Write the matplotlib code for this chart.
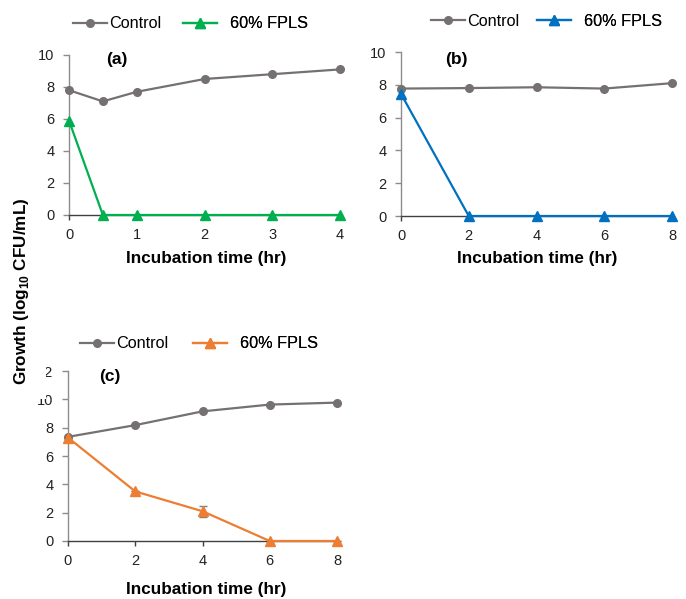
import matplotlib
matplotlib.use("Agg")
import matplotlib.pyplot as plt
from matplotlib.lines import Line2D

plt.rcParams['font.family'] = ['Liberation Sans', 'DejaVu Sans']
plt.rcParams['mathtext.fontset'] = 'custom'
plt.rcParams['mathtext.rm'] = 'Liberation Sans'
plt.rcParams['mathtext.bf'] = 'Liberation Sans:bold'

# ---- data ----
time_a = [0, 0.5, 1, 2, 3, 4]
control_a = [7.8, 7.1, 7.7, 8.5, 8.8, 9.1]
fpls_a = [5.9, 0, 0, 0, 0, 0]

time_b = [0, 2, 4, 6, 8]
control_b = [7.77, 7.8, 7.85, 7.77, 8.1]
fpls_b = [7.45, 0, 0, 0, 0]

time_c = [0, 2, 4, 6, 8]
control_c = [7.35, 8.18, 9.15, 9.63, 9.77]
fpls_c = [7.3, 3.5, 2.1, 0, 0]
fpls_c_err = [0, 0, 0.4, 0, 0]

xticks_a = [0, 1, 2, 3, 4]
xticks_bc = [0, 2, 4, 6, 8]
yticks_ab = [0, 2, 4, 6, 8, 10]
yticks_c = [0, 2, 4, 6, 8, 10, 12]

labels = ['Control', '60% FPLS']
panel_tags = ['(a)', '(b)', '(c)']

GREY = '#767171'
GREEN = '#00B050'
BLUE = '#0070C0'
ORANGE = '#ED7D31'
SPINE = '#8c8c8c'

W, H = 686, 599
fig = plt.figure(figsize=(W / 100, H / 100), dpi=100)


def px_axes(x0, x1, ytop, ybot):
    return fig.add_axes([x0 / W, 1 - ybot / H, (x1 - x0) / W, (ybot - ytop) / H])


ax_a = px_axes(69, 340, 55, 215)
ax_b = px_axes(401, 672, 52, 216)
ax_c = px_axes(68, 337, 371, 541)


def style(ax, xt, yt, xlim, ylim, label_xy):
    ax.set_xlim(*xlim)
    ax.set_ylim(*ylim)
    ax.set_xticks(xt)
    ax.set_yticks(yt)
    for s in ['top', 'right']:
        ax.spines[s].set_visible(False)
    ax.spines['left'].set_color(SPINE)
    ax.spines['bottom'].set_color('#404040')
    ax.spines['left'].set_linewidth(1.0)
    ax.spines['bottom'].set_linewidth(1.0)
    ax.tick_params(axis='y', direction='out', length=4.5, width=1.0, color=SPINE,
                   labelsize=10.5, pad=6, labelcolor='#222222')
    ax.tick_params(axis='x', direction='out', length=3.5, width=1.0, color='#404040',
                   labelsize=10.5, pad=6, labelcolor='#222222')
    ax.set_xlabel('Incubation time (hr)', fontsize=12.3, fontweight='bold', va='center')
    ax.xaxis.set_label_coords(*label_xy)
    ax.set_facecolor('none')


def draw(ax, t, ctrl, fp, col, err=None):
    ax.plot(t, ctrl, color=GREY, lw=1.6, marker='o', ms=5.5, clip_on=False, zorder=3)
    if err is not None:
        ax.errorbar(t, fp, yerr=err, fmt='none', ecolor='#7f7f7f', elinewidth=1.0,
                    capsize=3, capthick=1.0, zorder=2, clip_on=False)
    ax.plot(t, fp, color=col, lw=1.6, marker='^', ms=6.5, clip_on=False, zorder=4)


def legend_pair(ax, col, x_ctrl, x_fp, y):
    h1 = Line2D([], [], color=GREY, lw=1.6, marker='o', ms=5.5)
    h2 = Line2D([], [], color=col, lw=1.6, marker='^', ms=6.5)
    common = dict(loc='center left', frameon=False, borderpad=0, borderaxespad=0,
                  fontsize=11.7, handlelength=2.1, bbox_transform=fig.transFigure)
    l1 = ax.legend([h1], [labels[0]], bbox_to_anchor=(x_ctrl / W, 1 - y / H),
                   handletextpad=0.12, **common)
    ax.add_artist(l1)
    l2 = ax.legend([h2], [labels[1]], bbox_to_anchor=(x_fp / W, 1 - y / H),
                   handletextpad=0.8, **common)
    ax.add_artist(l2)


style(ax_a, xticks_a, yticks_ab, (0, 4), (0, 10), (0.506, -0.269))
draw(ax_a, time_a, control_a, fpls_a, GREEN)
legend_pair(ax_a, GREEN, 73, 183, 24)
ax_a.text(0.71, 9.7, panel_tags[0], fontsize=12.5, fontweight='bold', ha='center', va='center')

style(ax_b, xticks_bc, yticks_ab, (0, 8), (0, 10), (0.502, -0.262))
draw(ax_b, time_b, control_b, fpls_b, BLUE)
legend_pair(ax_b, BLUE, 431, 537, 21)
ax_b.text(1.63, 9.57, panel_tags[1], fontsize=12.5, fontweight='bold', ha='center', va='center')

style(ax_c, xticks_bc, yticks_c, (0, 8), (0, 12), (0.513, -0.288))
draw(ax_c, time_c, control_c, fpls_c, ORANGE, err=fpls_c_err)
legend_pair(ax_c, ORANGE, 80, 193, 344)
ax_c.text(1.24, 11.6, panel_tags[2], fontsize=12.5, fontweight='bold', ha='center', va='center')

# shared y label with white box (partly covering panel (c) tick labels, as in the original)
fig.text(22 / W, 1 - 291 / H, r'Growth (log$_{\mathbf{10}}$ CFU/mL)', rotation=90,
         ha='center', va='center', fontsize=12.3, fontweight='bold',
         bbox=dict(boxstyle='square,pad=0.85', facecolor='white', edgecolor='none'),
         zorder=10)

fig.savefig('out.png', dpi=100)
